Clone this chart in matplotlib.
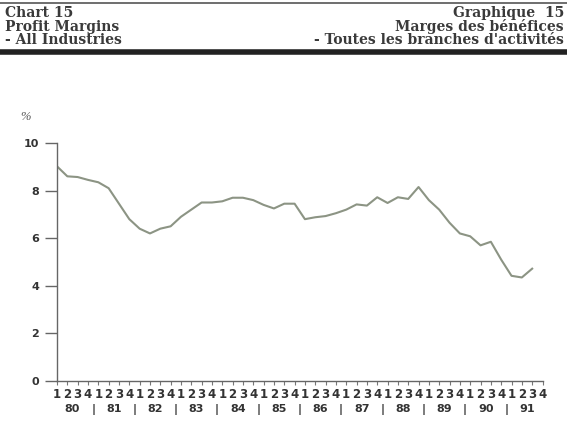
import numpy as np
import matplotlib
matplotlib.use("Agg")
import matplotlib.pyplot as plt

# profit margins, %, quarterly 1980Q1 - 1991Q3
marges = [9.02, 8.6, 8.57, 8.45, 8.35, 8.1, 7.45, 6.8, 6.4, 6.2,
          6.4, 6.5, 6.9, 7.2, 7.5, 7.5, 7.55, 7.7, 7.7, 7.6,
          7.4, 7.25, 7.45, 7.45, 6.8, 6.88, 6.93, 7.05, 7.2, 7.42,
          7.37, 7.72, 7.48, 7.72, 7.65, 8.15, 7.6, 7.2, 6.65, 6.2,
          6.08, 5.7, 5.85, 5.1, 4.42, 4.35, 4.72]
annees = ["80", "81", "82", "83", "84", "85", "86", "87", "88", "89", "90", "91"]
trimestres = ["1", "2", "3", "4"]
yticks = [0, 2, 4, 6, 8, 10]

fig = plt.figure(figsize=(5.67, 4.33), dpi=100)
fig.patch.set_facecolor("white")

# header
serif = "DejaVu Serif"
hcol = "#3a3a3a"
fig.add_artist(plt.Line2D([0, 1], [1 - 3/433, 1 - 3/433], color="#555555", lw=1.2))
fig.add_artist(plt.Line2D([0, 1], [1 - 52/433, 1 - 52/433], color="#222222", lw=4.0))
for k, (g, d) in enumerate([("Chart 15", "Graphique  15"),
                            ("Profit Margins", "Marges des bénéfices"),
                            ("- All Industries", "- Toutes les branches d'activités")]):
    yy = 1 - (17 + 13.6 * k) / 433
    fig.text(5/567, yy, g, family=serif, weight="bold", fontsize=10, color=hcol, va="baseline", ha="left")
    fig.text(564/567, yy, d, family=serif, weight="bold", fontsize=10, color=hcol, va="baseline", ha="right")
fig.text(20/567, 1 - 117/433, "%", family="Liberation Serif", style="italic", fontsize=9, color="#555555", va="center")

ax = fig.add_axes([57/567, 1 - 381/433, (542.5 - 57)/567, (381 - 143)/433])
x = np.arange(len(marges))
ax.plot(x, marges, color="#8c9484", lw=1.5)
ax.set_xlim(0, 47)
ax.set_ylim(0, 10)
for s in ["top", "right"]:
    ax.spines[s].set_visible(False)
for s in ["left", "bottom"]:
    ax.spines[s].set_color("#666666")
    ax.spines[s].set_linewidth(1.0)

ax.set_yticks(yticks)
ax.set_yticklabels([str(v) for v in yticks], fontsize=8, weight="bold", color="#333333")
ax.tick_params(axis="y", length=9, width=1, color="#666666", pad=4)

ax.set_xticks(np.arange(48))
ax.set_xticklabels([])
ax.tick_params(axis="x", length=3, width=0.8, color="#777777")

for i in range(48):
    ax.text(i, -0.3, trimestres[i % 4], fontsize=8.5, weight="bold", color="#333333",
            ha="center", va="top")
for k, a in enumerate(annees):
    ax.text(4 * k + 1.5, -0.95, a, fontsize=8, weight="bold", color="#333333",
            ha="center", va="top")
    if k < len(annees) - 1:
        ax.text(4 * k + 3.5, -0.95, "|", fontsize=8, weight="bold", color="#333333",
                ha="center", va="top")

fig.savefig("out.png", dpi=100, facecolor="white")
